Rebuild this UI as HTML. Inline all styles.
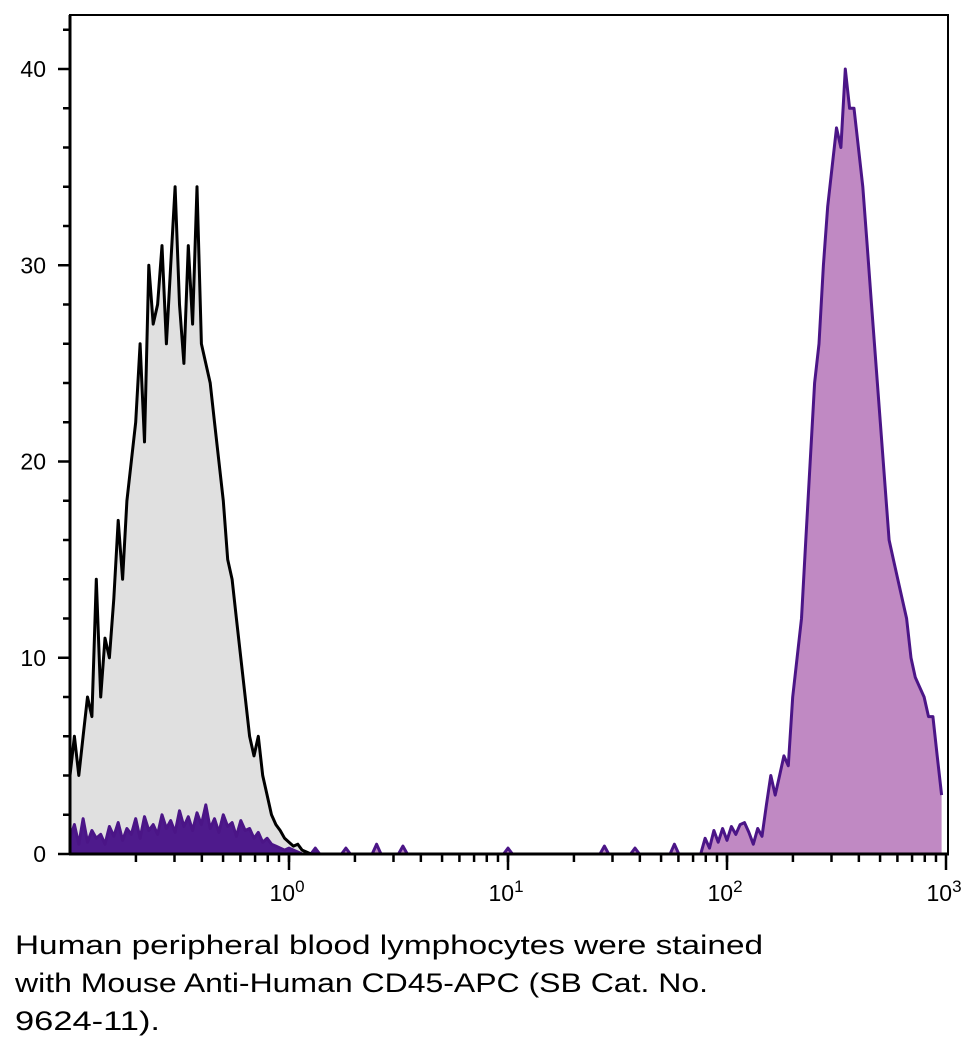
<!DOCTYPE html>
<html><head><meta charset="utf-8"><style>
html,body{margin:0;padding:0;background:#fff;width:977px;height:1048px;overflow:hidden}
svg{display:block;font-family:"Liberation Sans",sans-serif}
</style></head><body>
<svg id="chart" width="977" height="1048" viewBox="0 0 977 1048">
<defs>
<linearGradient id="pg" gradientUnits="userSpaceOnUse" x1="0" y1="0" x2="977" y2="0">
<stop offset="0" stop-color="#4e1a8c"/><stop offset="0.33" stop-color="#4e1a8c"/><stop offset="0.33" stop-color="#c089c3"/><stop offset="1" stop-color="#c089c3"/>
</linearGradient>
</defs>
<g id="plot"></g>
<g font-size="27" fill="#000">
<text x="15" y="954" textLength="748" lengthAdjust="spacingAndGlyphs">Human peripheral blood lymphocytes were stained</text>
<text x="15" y="992" textLength="693" lengthAdjust="spacingAndGlyphs">with Mouse Anti-Human CD45-APC (SB Cat. No.</text>
<text x="15" y="1030" textLength="145" lengthAdjust="spacingAndGlyphs">9624-11).</text>
</g>
</svg>
<script>
const yTicks=[0,10,20,30,40];
const xDecades=[0,1,2,3];
const blackCounts=[4,6,4,6,8,7,14,8,11,10,13,17,14,18,20,22,26,21,30,27,28,31,26,30,34,28,25,31,27,34,26,25,24,22,20,18,15,14,12,10,8,6,5,6,4,3,2,1.5,1.2,0.8,0.6,0.4,0.5,0.2,0.1,0];
const purpleCounts=[
0.8,1.5,0.5,1.8,0.6,1.2,0.8,1.0,0.5,1.4,0.9,1.6,0.7,1.3,1.0,1.8,0.8,1.9,1.2,1.5,1.0,2.0,1.3,1.7,1.1,2.2,1.4,1.9,1.2,2.1,1.5,2.5,1.3,1.8,1.1,2.0,1.4,1.6,0.9,1.7,1.2,1.3,0.8,1.1,0.6,0.8,0.5,0.4,0.3,0.2,0.3,0.2,0.1,
0,0,0,0.3,0,0,0,0,0,0,0.3,0,0,0,0,0,0,0.5,0,0,0,0,0,0.4,0,0,0,0,
0,0,0,0,0,0,0,0,0,0,0,0,0,0,0,0,0,0,0,0.3,0,0,0,0,0,0,0,0,0,0,0,0,0,0,0,0,0,0,0,0,
0,0.4,0,0,0,0,0,0,0.3,0,0,0,0,0,0,0,0,0.5,0,0,0,0,0,0,
0.8,0.3,1.2,0.6,1.3,0.7,1.4,1.0,1.5,1.6,1.1,0.5,1.3,0.9,2.5,4,3,4,5,4.5,8,10,12,16,20,24,26,30,33,35,37,36,40,38,38,36,34,31,28,25,22,19,16,15,14,13,12,10,9,8.5,8,7,7,5,3];
const X0=70,X1=946,Y0=854,Y40=69;
const logMin=-1,logMax=3;
function xs(l){return X0+(l-logMin)/(logMax-logMin)*(X1-X0);}
function ys(v){return Y0-(v/40)*(Y0-Y40);}
const NB=200, bw=(logMax-logMin)/NB;
function pts(arr){return arr.map((v,i)=>[xs(logMin+i*bw),ys(v)]);}
const NS="http://www.w3.org/2000/svg";
const g=document.getElementById('plot');
function mk(t,a){const e=document.createElementNS(NS,t);for(const k in a)e.setAttribute(k,a[k]);g.appendChild(e);return e;}
const bp=pts(blackCounts), pp=pts(purpleCounts);
const line=p=>p.map(q=>q[0].toFixed(1)+','+q[1].toFixed(1)).join(' ');
const area=p=>p[0][0].toFixed(1)+','+Y0+' '+line(p)+' '+p[p.length-1][0].toFixed(1)+','+Y0;
let e=mk('polygon',{points:area(bp),fill:'#e0e0e0'});


e=mk('polygon',{points:area(pp),fill:'url(#pg)'});


e=mk('polyline',{points:line(pp),fill:'none',stroke:'#4b1587','stroke-width':3,'stroke-linejoin':'round'});


e=mk('polyline',{points:line(bp),fill:'none',stroke:'#000','stroke-width':3,'stroke-linejoin':'round'});


e=mk('polyline',{points:`${X0},${Y0} ${X0},15 948,15 948,${Y0}`,fill:'none',stroke:'#000','stroke-width':2});


e=mk('line',{x1:X0,y1:15,x2:X0,y2:Y0+1,stroke:'#000','stroke-width':3});


e=mk('line',{x1:X0-1,y1:Y0,x2:949,y2:Y0,stroke:'#000','stroke-width':3});


for(let v=0;v<=42;v+=2){const maj=v%10===0;
e=mk('line',{x1:X0-(maj?12:7),x2:X0,y1:ys(v),y2:ys(v),stroke:'#000','stroke-width':2.5});

}
yTicks.forEach(v=>{e=mk('text',{x:46,y:ys(v)+8,'text-anchor':'end','font-size':23});e.textContent=String(v);

});
for(let d=-1;d<3;d++){for(let m=1;m<10;m++){const l=d+Math.log10(m);if(l<=logMin)continue;
e=mk('line',{x1:xs(l),x2:xs(l),y1:Y0,y2:Y0+8,stroke:'#000','stroke-width':2.5});

}}
xDecades.forEach(d=>{
e=mk('line',{x1:xs(d),x2:xs(d),y1:Y0,y2:Y0+16,stroke:'#000','stroke-width':2.5});


e=mk('text',{x:xs(d)-2,y:901,'text-anchor':'middle','font-size':23});


const t1=document.createElementNS(NS,'tspan');t1.textContent='10';e.appendChild(t1);
const t2=document.createElementNS(NS,'tspan');t2.setAttribute('dy','-9');t2.setAttribute('font-size','17');t2.textContent=String(d);e.appendChild(t2);
});
</script>
</body></html>
